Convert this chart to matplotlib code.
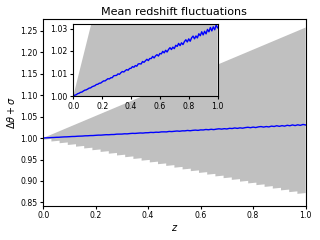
import numpy as np
import matplotlib
matplotlib.use("Agg")
import matplotlib.pyplot as plt

# upper edge of the shaded band (straight line)
z_upper = [0.0, 1.0]
upper = [1.0, 1.257]

# lower edge is a sawtooth: value just after each drop (lo) and just before it (hi)
lower_lo = [0.9960, 0.9919, 0.9879, 0.9838, 0.9798, 0.9757, 0.9716, 0.9676,
            0.9635, 0.9594, 0.9554, 0.9513, 0.9473, 0.9432, 0.9391, 0.9351,
            0.9310, 0.9269, 0.9229, 0.9188, 0.9148, 0.9107, 0.9066, 0.9026,
            0.8985, 0.8944, 0.8904, 0.8863, 0.8823, 0.8782, 0.8741, 0.8701,
            0.8660]
lower_hi = [0.9978, 0.9937, 0.9897, 0.9856, 0.9816, 0.9775, 0.9734, 0.9694,
            0.9653, 0.9612, 0.9572, 0.9531, 0.9491, 0.9450, 0.9409, 0.9369,
            0.9328, 0.9287, 0.9247, 0.9206, 0.9166, 0.9125, 0.9084, 0.9044,
            0.9003, 0.8962, 0.8922, 0.8881, 0.8841, 0.8800, 0.8759, 0.8719]

# mean fluctuation (blue line)
mean_dtheta = [1.00000, 1.00036, 1.00054, 1.00103, 1.00122, 1.00162, 1.00176, 1.00222,
               1.00260, 1.00274, 1.00310, 1.00351, 1.00360, 1.00410, 1.00436, 1.00458,
               1.00511, 1.00522, 1.00568, 1.00574, 1.00625, 1.00671, 1.00670, 1.00720,
               1.00769, 1.00758, 1.00811, 1.00814, 1.00898, 1.00909, 1.00915, 1.00984,
               1.00964, 1.01036, 1.01089, 1.01065, 1.01124, 1.01174, 1.01146, 1.01224,
               1.01230, 1.01308, 1.01277, 1.01353, 1.01324, 1.01425, 1.01434, 1.01422,
               1.01533, 1.01496, 1.01565, 1.01631, 1.01574, 1.01668, 1.01662, 1.01760,
               1.01691, 1.01784, 1.01838, 1.01776, 1.01890, 1.01871, 1.01984, 1.01918,
               1.02032, 1.01955, 1.02068, 1.02147, 1.02065, 1.02172, 1.02105, 1.02254,
               1.02204, 1.02338, 1.02239, 1.02365, 1.02286, 1.02417, 1.02500, 1.02401,
               1.02540, 1.02433, 1.02587, 1.02663, 1.02541, 1.02670, 1.02581, 1.02767,
               1.02678, 1.02854, 1.02715, 1.02876, 1.02762, 1.02960, 1.02854, 1.03045,
               1.02893, 1.03074, 1.02943, 1.03156, 1.03030]
z = np.linspace(0, 1, len(mean_dtheta))

# build band polygon
edges = np.linspace(0, 1, len(lower_lo))
zl = [0.0, 0.0]
yl = [1.0, lower_lo[0]]
for k in range(1, len(lower_lo)):
    zl += [edges[k], edges[k]]
    yl += [lower_hi[k - 1], lower_lo[k]]
poly_z = np.concatenate([z_upper, zl[::-1]])
poly_y = np.concatenate([upper, yl[::-1]])

fs = 5.6
fig = plt.figure(figsize=(3.2, 2.4), dpi=100)
ax = fig.add_axes([0.135, 0.142, 0.820, 0.779])
ax.fill(poly_z, poly_y, color='silver', lw=0)
ax.plot(z, mean_dtheta, color='b', lw=1)
ax.set_xlim(0, 1)
ax.set_ylim(0.842, 1.277)
ax.set_xlabel("$z$", fontsize=7, labelpad=2)
ax.set_ylabel(r"$\Delta\theta + \sigma$", fontsize=7, labelpad=2)
ax.set_title("Mean redshift fluctuations", fontsize=8, pad=3)
ax.tick_params(labelsize=fs, length=2.5, pad=1.5)

ins = fig.add_axes([0.229, 0.6, 0.451, 0.3])
ins.fill(poly_z, poly_y, color='silver', lw=0)
ins.plot(z, mean_dtheta, color='b', lw=1)
ins.set_xlim(0, 1)
ins.set_ylim(1.0, 1.032)
ins.set_yticks([1.00, 1.01, 1.02, 1.03])
ins.tick_params(labelsize=fs, length=2.5, pad=1.5)

fig.savefig("out.png", dpi=100)
